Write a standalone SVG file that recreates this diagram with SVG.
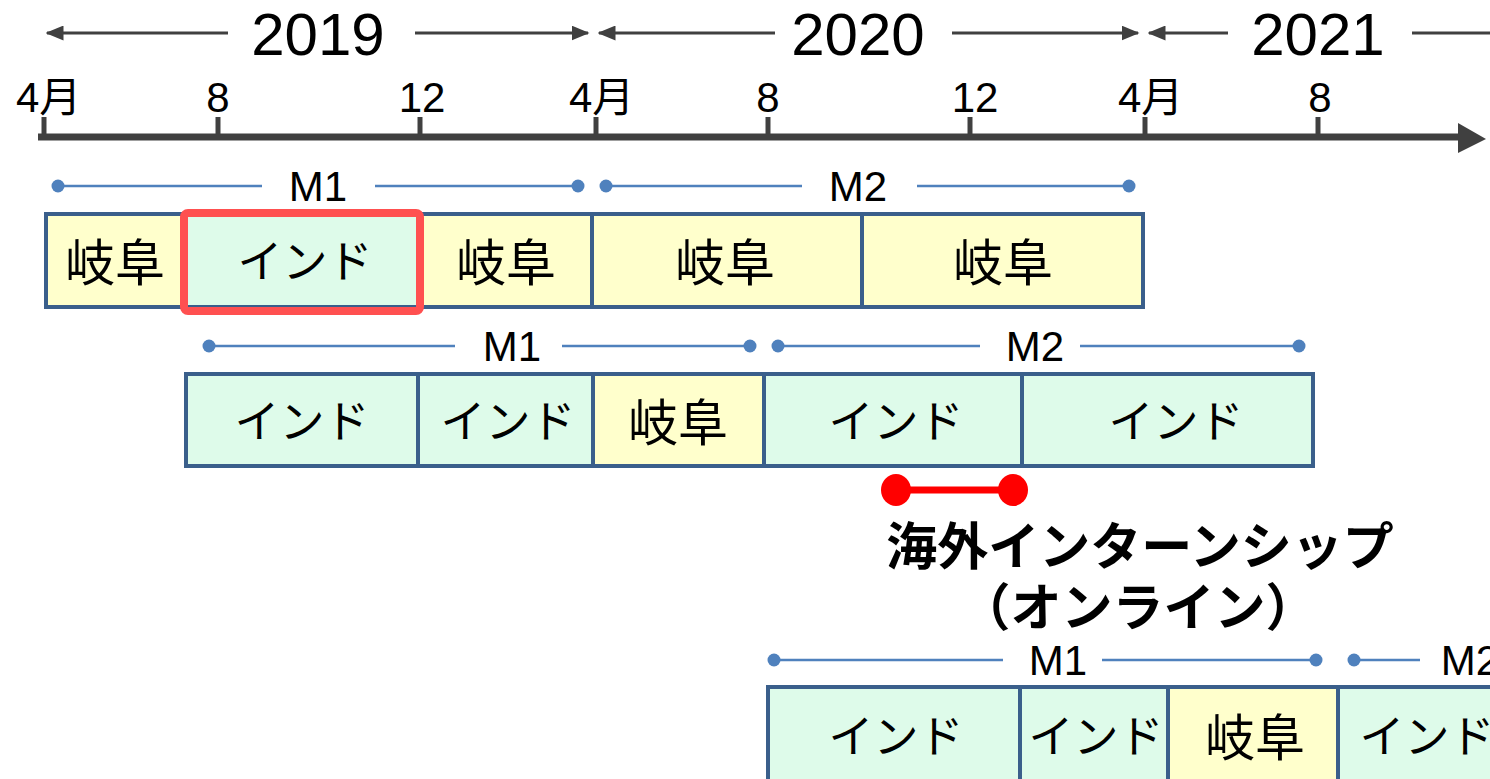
<svg xmlns="http://www.w3.org/2000/svg" width="1490" height="779" viewBox="0 0 1490 779">
<style>
.yr{font-family:"Liberation Sans",Arial,sans-serif;font-size:60px;fill:#000;text-anchor:middle}
.mo{font-family:"Liberation Sans","Noto Sans CJK JP",sans-serif;font-size:42px;fill:#000}
.ml{font-family:"Liberation Sans",Arial,sans-serif;font-size:42px;fill:#000;text-anchor:middle}
.yline{stroke:#404040;stroke-width:3;fill:none}
.tick{stroke:#404040;stroke-width:5}
.span{stroke:#4F81BD;stroke-width:2.5;fill:none}
.dot{fill:#4F81BD}
.cell{stroke:#3A5F8B;stroke-width:4}
.gifu{fill:#FFFFCC}
.ind{fill:#DEFBEA}
.jp{font-family:"Noto Sans CJK JP",sans-serif;font-size:45px;fill:#000;text-anchor:middle}
.gj{font-family:"Noto Sans CJK JP",sans-serif;font-size:50px;fill:#000;text-anchor:middle}
.bold{font-family:"Noto Sans CJK JP",sans-serif;font-size:51px;font-weight:bold;fill:#000;text-anchor:middle}
</style>
<defs>
<marker id="ah" markerWidth="6" markerHeight="5" refX="5.5" refY="2.5" orient="auto" markerUnits="strokeWidth">
<path d="M0,0 L6,2.5 L0,5 Z" fill="#404040"/>
</marker>
</defs>
<rect width="1490" height="779" fill="#fff"/>
<g id="timeline">
<line class="yline" x1="228" y1="33" x2="47" y2="33" marker-end="url(#ah)"/>
<line class="yline" x1="415" y1="33" x2="588" y2="33" marker-end="url(#ah)"/>
<line class="yline" x1="775" y1="33" x2="599" y2="33" marker-end="url(#ah)"/>
<line class="yline" x1="952" y1="33" x2="1138" y2="33" marker-end="url(#ah)"/>
<line class="yline" x1="1228" y1="33" x2="1149" y2="33" marker-end="url(#ah)"/>
<line class="yline" x1="1412" y1="33" x2="1490" y2="33"/>
<text class="yr" x="318" y="55">2019</text>
<text class="yr" x="858" y="55">2020</text>
<text class="yr" x="1318" y="55">2021</text>
<line x1="38" y1="137" x2="1462" y2="137" stroke="#404040" stroke-width="7"/>
<polygon points="1458,123 1486,139 1458,153" fill="#404040"/>
<line class="tick" x1="44" y1="117" x2="44" y2="137"/>
<line class="tick" x1="218" y1="117" x2="218" y2="137"/>
<line class="tick" x1="420" y1="117" x2="420" y2="137"/>
<line class="tick" x1="596" y1="117" x2="596" y2="137"/>
<line class="tick" x1="768" y1="117" x2="768" y2="137"/>
<line class="tick" x1="970" y1="117" x2="970" y2="137"/>
<line class="tick" x1="1145" y1="117" x2="1145" y2="137"/>
<line class="tick" x1="1318" y1="117" x2="1318" y2="137"/>
<text class="mo" x="16" y="112">4月</text>
<text class="mo" x="218" y="112" text-anchor="middle">8</text>
<text class="mo" x="422" y="112" text-anchor="middle">12</text>
<text class="mo" x="569" y="112">4月</text>
<text class="mo" x="768" y="112" text-anchor="middle">8</text>
<text class="mo" x="975" y="112" text-anchor="middle">12</text>
<text class="mo" x="1118" y="112">4月</text>
<text class="mo" x="1320" y="112" text-anchor="middle">8</text>
</g>
<g id="spans">
<line class="span" x1="58" y1="186" x2="262" y2="186"/><line class="span" x1="375" y1="186" x2="578" y2="186"/>
<circle class="dot" cx="58" cy="186" r="6.5"/><circle class="dot" cx="578" cy="186" r="6.5"/>
<text class="ml" x="318" y="201">M1</text>
<line class="span" x1="606" y1="186" x2="802" y2="186"/><line class="span" x1="917" y1="186" x2="1129" y2="186"/>
<circle class="dot" cx="606" cy="186" r="6.5"/><circle class="dot" cx="1129" cy="186" r="6.5"/>
<text class="ml" x="858" y="201">M2</text>
<line class="span" x1="209" y1="346" x2="455" y2="346"/><line class="span" x1="562" y1="346" x2="750" y2="346"/>
<circle class="dot" cx="209" cy="346" r="6.5"/><circle class="dot" cx="750" cy="346" r="6.5"/>
<text class="ml" x="512" y="361">M1</text>
<line class="span" x1="778" y1="346" x2="980" y2="346"/><line class="span" x1="1080" y1="346" x2="1299" y2="346"/>
<circle class="dot" cx="778" cy="346" r="6.5"/><circle class="dot" cx="1299" cy="346" r="6.5"/>
<text class="ml" x="1035" y="361">M2</text>
<line class="span" x1="774" y1="660" x2="1003" y2="660"/><line class="span" x1="1102" y1="660" x2="1316" y2="660"/>
<circle class="dot" cx="774" cy="660" r="6.5"/><circle class="dot" cx="1316" cy="660" r="6.5"/>
<text class="ml" x="1058" y="675">M1</text>
<line class="span" x1="1354" y1="660" x2="1420" y2="660"/>
<circle class="dot" cx="1354" cy="660" r="6.5"/>
<text class="ml" x="1470" y="675">M2</text>
</g>
<g id="row1">
<rect class="cell gifu" x="46" y="214" width="138" height="93"/>
<text class="gj" x="115" y="281">岐阜</text>
<rect class="cell gifu" x="420" y="214" width="172" height="93"/>
<text class="gj" x="506" y="281">岐阜</text>
<rect class="cell gifu" x="592" y="214" width="270" height="93"/>
<text class="gj" x="725" y="281">岐阜</text>
<rect class="cell gifu" x="862" y="214" width="281" height="93"/>
<text class="gj" x="1003" y="281">岐阜</text>
<rect class="cell ind" x="184" y="214" width="236" height="93"/>
<rect x="184" y="213" width="236" height="98" rx="4" fill="none" stroke="#FF5050" stroke-width="8"/>
<text class="jp" x="305" y="278">インド</text>
</g>
<g id="row2">
<rect class="cell ind" x="186" y="374" width="232" height="92"/>
<text class="jp" x="302" y="438">インド</text>
<rect class="cell ind" x="418" y="374" width="175" height="92"/>
<text class="jp" x="508" y="438">インド</text>
<rect class="cell gifu" x="593" y="374" width="171" height="92"/>
<text class="gj" x="678" y="441">岐阜</text>
<rect class="cell ind" x="764" y="374" width="258" height="92"/>
<text class="jp" x="896" y="438">インド</text>
<rect class="cell ind" x="1022" y="374" width="291" height="92"/>
<text class="jp" x="1176" y="438">インド</text>
</g>
<g id="internship">
<line x1="896" y1="490" x2="1013" y2="490" stroke="#FF0000" stroke-width="7"/>
<ellipse cx="896" cy="490" rx="15" ry="16" fill="#FF0000"/>
<ellipse cx="1013" cy="490" rx="15" ry="16" fill="#FF0000"/>
<text class="bold"><tspan x="1140" y="565">海外インターンシップ</tspan><tspan x="1138" y="626">（オンライン）</tspan></text>
</g>
<g id="row3">
<rect class="cell ind" x="768" y="687" width="252" height="96"/>
<text class="jp" x="896" y="753">インド</text>
<rect class="cell ind" x="1020" y="687" width="148" height="96"/>
<text class="jp" x="1096" y="753">インド</text>
<rect class="cell gifu" x="1168" y="687" width="170" height="96"/>
<text class="gj" x="1255" y="756">岐阜</text>
<rect class="cell ind" x="1338" y="687" width="170" height="96"/>
<text class="jp" x="1427" y="753">インド</text>
</g>
</svg>
